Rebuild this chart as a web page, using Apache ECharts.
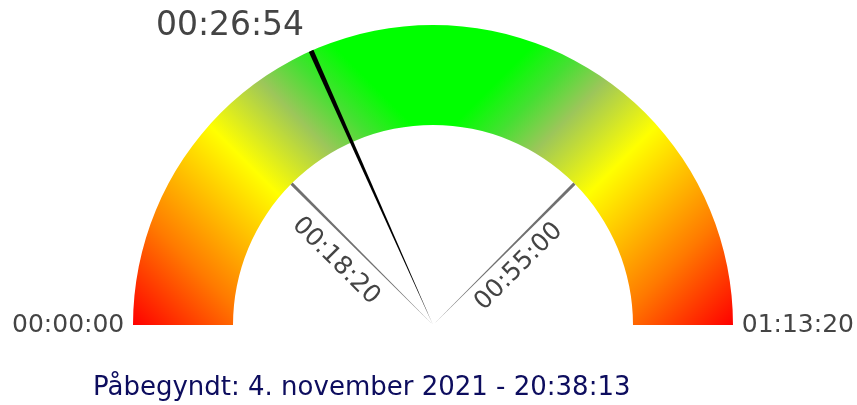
<!DOCTYPE html>
<html>
<head>
<meta charset="utf-8">
<script src="https://cdn.jsdelivr.net/npm/echarts@6/dist/echarts.min.js"></script>
<style>
  html, body { margin: 0; padding: 0; background: #fff; }
  #chart { width: 857px; height: 405px; }
</style>
</head>
<body>
<div id="chart"></div>
<script>
// scale in seconds: 00:00:00 .. 01:13:20
const scaleRange = [0, 4400];
// marker lines: 00:18:20 and 00:55:00
const markers = [1100, 3300];
// elapsed time shown by the needle: 00:26:54
const elapsed = [1614];
const startedText = 'Påbegyndt: 4. november 2021 - 20:38:13';

const chart = echarts.init(document.getElementById('chart'));

function hms(sec) {
  const h = Math.floor(sec / 3600);
  const m = Math.floor((sec % 3600) / 60);
  const s = Math.round(sec % 60);
  return [h, m, s].map(n => String(n).padStart(2, '0')).join(':');
}

const FONT = 'DejaVu Sans';
const CENTER = [433, 325];
const R = 300;

// red -> yellow -> greyish green -> green, running diagonally over each half
const bandStops = [
  { offset: 0, color: '#ff0000' },
  { offset: 0.2, color: '#ff7a00' },
  { offset: 0.46, color: '#ffff00' },
  { offset: 0.62, color: '#9cc65a' },
  { offset: 0.71, color: '#45e032' },
  { offset: 0.8, color: '#00ff00' },
  { offset: 1, color: '#00ff00' }
];
const leftGrad = new echarts.graphic.LinearGradient(0, 1, 1, 0, bandStops);
const rightGrad = new echarts.graphic.LinearGradient(1, 1, 0, 0, bandStops);

const needle = 'path://M0,0 L10,0 L5,100 Z';

const base = {
  type: 'gauge',
  center: CENTER,
  radius: R,
  min: scaleRange[0],
  max: scaleRange[1],
  startAngle: 180,
  endAngle: 0,
  axisLine: { show: false },
  axisTick: { show: false },
  splitLine: { show: false, length: 0, distance: 0 },
  axisLabel: { show: false },
  pointer: { show: false },
  anchor: { show: false },
  title: { show: false },
  detail: { show: false },
  animation: false
};

// labels along the marker lines, pushed to the outer side of each line
function markerLabel(which, rotate, distance, lineHeight) {
  return Object.assign({}, base, {
    startAngle: 135, endAngle: 45, min: markers[0], max: markers[1], splitNumber: 1,
    axisLabel: {
      show: true, distance: distance, rotate: rotate, lineHeight: lineHeight,
      fontFamily: FONT, fontSize: 25, color: '#444',
      formatter: v => (v === markers[which] ? '\n' + hms(v) : '')
    },
    data: [{ value: markers[which] }]
  });
}

const option = {
  animation: false,
  title: {
    text: startedText,
    left: 93,
    top: 375,
    padding: 0,
    textStyle: { fontFamily: FONT, fontSize: 26, fontWeight: 'normal', color: '#0d0d5e' }
  },
  series: [
    // coloured band + needle + value text
    Object.assign({}, base, {
      axisLine: { show: true, lineStyle: { width: 100, color: [[0.5, leftGrad], [1, rightGrad]] } },
      pointer: { show: true, icon: needle, length: R, width: 5, offsetCenter: [0, 0] },
      itemStyle: { color: '#000' },
      detail: {
        show: true,
        offsetCenter: [-203, -299],
        formatter: v => hms(v),
        fontFamily: FONT,
        fontSize: 33,
        fontWeight: 'normal',
        color: '#444',
        valueAnimation: false
      },
      data: elapsed.map(v => ({ value: v }))
    }),
    // grey marker lines
    Object.assign({}, base, {
      pointer: { show: true, icon: needle, length: 200, width: 3, offsetCenter: [0, 0] },
      itemStyle: { color: '#707070' },
      data: markers.map(v => ({ value: v }))
    }),
    // end labels outside the band
    Object.assign({}, base, {
      splitNumber: 1,
      axisLabel: {
        show: true, distance: -121, fontFamily: FONT, fontSize: 25, color: '#444',
        formatter: v => hms(v)
      },
      data: [{ value: scaleRange[0] }]
    }),
    markerLabel(0, -45, 186, 47),
    markerLabel(1, 45, 198, 39)
  ]
};

chart.setOption(option);
</script>
</body>
</html>
